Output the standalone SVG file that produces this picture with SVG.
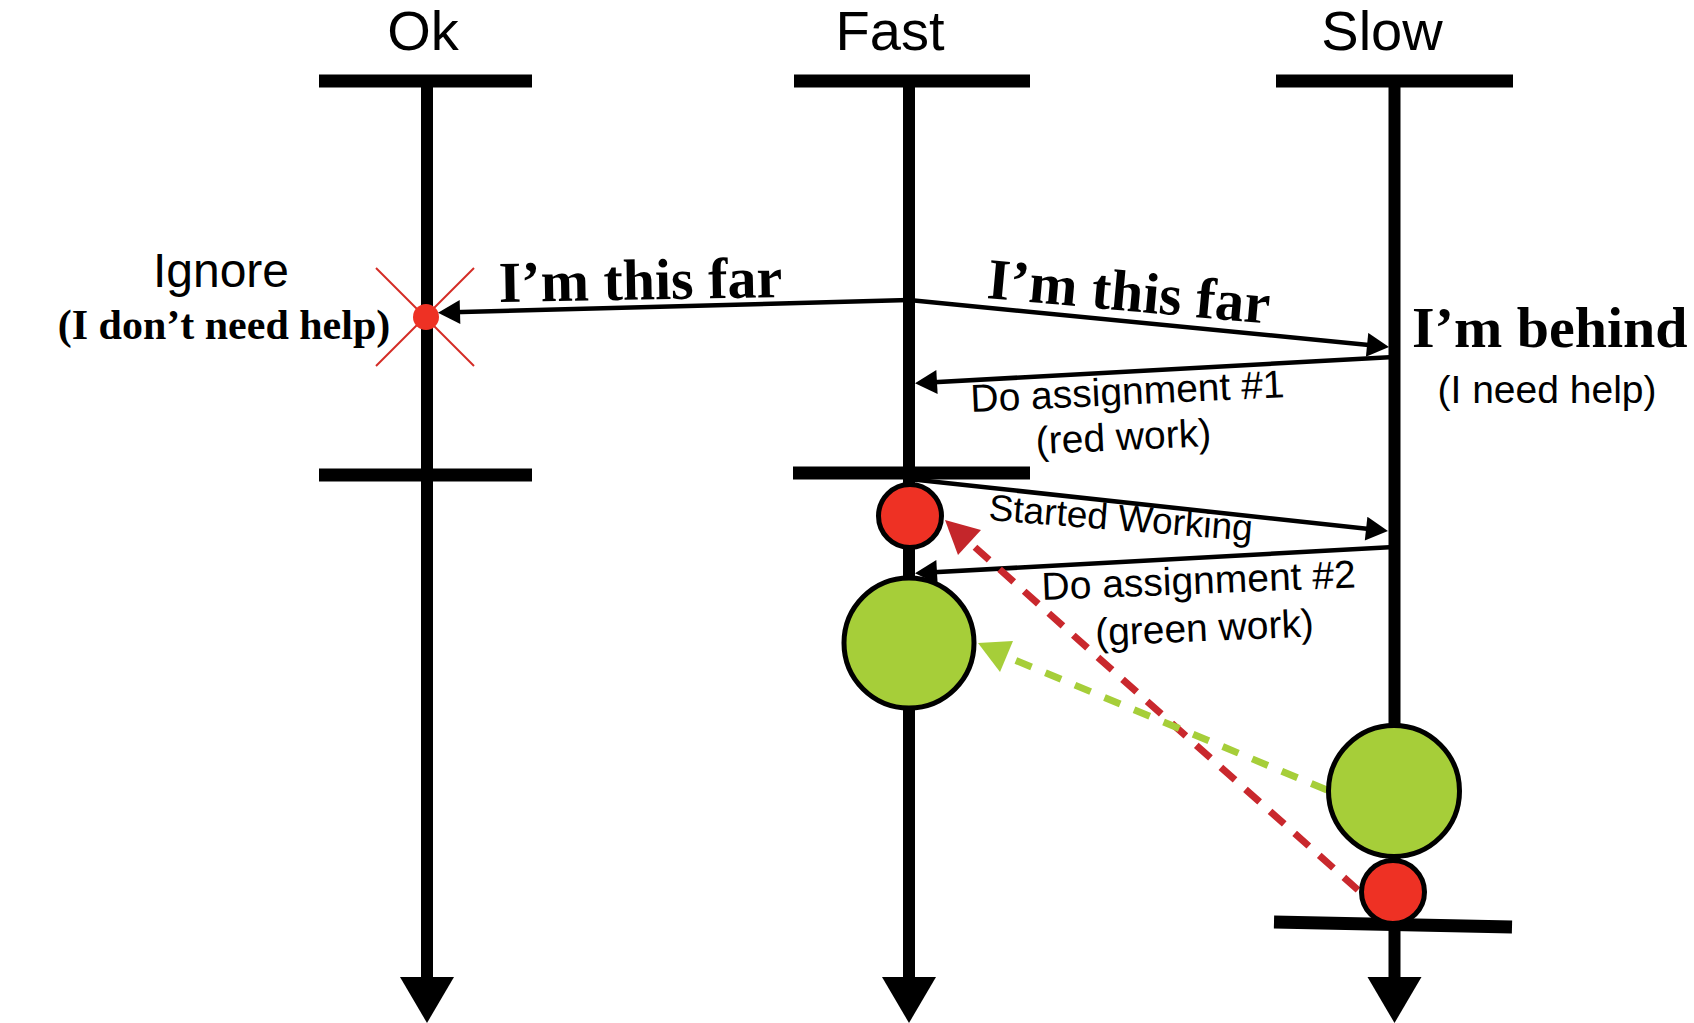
<svg xmlns="http://www.w3.org/2000/svg" width="1694" height="1023" viewBox="0 0 1694 1023">
<defs>
<style>
.life{stroke:#000;stroke-width:12;fill:none}
.bar{stroke:#000;stroke-width:13;fill:none}
.msg{stroke:#000;stroke-width:4.5;fill:none;marker-end:url(#ah)}
.sans{font-family:"Liberation Sans",Arial,sans-serif;fill:#000}
.serif{font-family:"Liberation Serif","Times New Roman",serif;font-weight:bold;fill:#000}
.red{fill:#ee3124;stroke:#000;stroke-width:5}
.green{fill:#a6ce39;stroke:#000;stroke-width:5}
</style>
<marker id="ah" markerUnits="userSpaceOnUse" markerWidth="24" markerHeight="24" viewBox="0 0 22 24" refX="17" refY="12" orient="auto">
<path d="M0,0 L22,12 L0,24 z" fill="#000"/>
</marker>
</defs>
<rect width="1694" height="1023" fill="#fff"/>

<g id="ok">
<text class="sans" x="423" y="50" font-size="56" text-anchor="middle">Ok</text>
<line class="life" x1="427" y1="78" x2="427" y2="982"/>
<polygon points="400,977 454,977 427,1023" fill="#000"/>
<line class="bar" x1="319" y1="81" x2="532" y2="81"/>
<line class="bar" x1="319" y1="475" x2="532" y2="475"/>
</g>

<g id="fast">
<text class="sans" x="890" y="50" font-size="56" text-anchor="middle">Fast</text>
<line class="life" x1="909" y1="78" x2="909" y2="982"/>
<polygon points="882,977 936,977 909,1023" fill="#000"/>
<line class="bar" x1="794" y1="81" x2="1030" y2="81"/>
<line class="bar" x1="793" y1="473" x2="1030" y2="473"/>
</g>

<g id="slow">
<text class="sans" x="1382" y="50" font-size="56" text-anchor="middle">Slow</text>
<line class="life" x1="1394.5" y1="78" x2="1394.5" y2="982"/>
<polygon points="1367.5,977 1421.5,977 1394.5,1023" fill="#000"/>
<line class="bar" x1="1276" y1="81" x2="1513" y2="81"/>
<line class="bar" x1="1274" y1="922" x2="1512" y2="927"/>
</g>

<g id="ignore-mark">
<line x1="376" y1="268" x2="474" y2="366" stroke="#d42b25" stroke-width="2"/>
<line x1="474" y1="268" x2="376" y2="366" stroke="#d42b25" stroke-width="2"/>
<circle cx="426" cy="317" r="13" fill="#ee3124"/>
</g>

<g id="connectors">
<line class="msg" x1="909" y1="300" x2="443" y2="312.5"/>
<line class="msg" x1="909" y1="300" x2="1384" y2="346.5"/>
<line class="msg" x1="1394" y1="357" x2="920" y2="383"/>
<line class="msg" x1="909" y1="479" x2="1383" y2="530.5"/>
<line class="msg" x1="1394" y1="547" x2="920" y2="573"/>
<line x1="1358" y1="890" x2="968" y2="541" stroke="#c9282d" stroke-width="7" stroke-dasharray="19,14"/>
<polygon points="945,520 981,530 958,555" fill="#c4262b"/>
<line x1="1327" y1="790" x2="1005" y2="656" stroke="#a6ce39" stroke-width="7" stroke-dasharray="17,15"/>
<polygon points="978,643 1013,641 1000,672" fill="#a6ce39"/>
</g>

<g id="work-fast">
<circle class="red" cx="910" cy="516" r="31.5"/>
<circle class="green" cx="909" cy="643" r="65"/>
</g>

<g id="work-slow">
<circle class="green" cx="1394" cy="791" r="65.5"/>
<circle class="red" cx="1393" cy="892" r="31.5"/>
</g>

<g id="labels">
<text class="sans" x="221" y="287" font-size="48" text-anchor="middle">Ignore</text>
<text class="serif" x="224" y="339" font-size="42" text-anchor="middle">(I don’t need help)</text>
<text class="serif" x="499" y="302" font-size="58" transform="rotate(-1 499 302)">I’m this far</text>
<text class="serif" x="986" y="298" font-size="58" transform="rotate(5.2 986 298)">I’m this far</text>
<text class="serif" x="1412" y="347" font-size="58">I’m behind</text>
<text class="sans" x="1547" y="403" font-size="39" text-anchor="middle">(I need help)</text>
<text class="sans" x="971" y="412" font-size="39" transform="rotate(-2.7 971 412)">Do assignment #1</text>
<text class="sans" x="1124" y="450" font-size="39" text-anchor="middle" transform="rotate(-2.7 1124 450)">(red work)</text>
<text class="sans" x="988" y="520" font-size="37" transform="rotate(4.5 988 520)">Started Working</text>
<text class="sans" x="1042" y="600" font-size="39" transform="rotate(-2.3 1042 600)">Do assignment #2</text>
<text class="sans" x="1205" y="641" font-size="39" text-anchor="middle" transform="rotate(-2.5 1205 641)">(green work)</text>
</g>
</svg>
